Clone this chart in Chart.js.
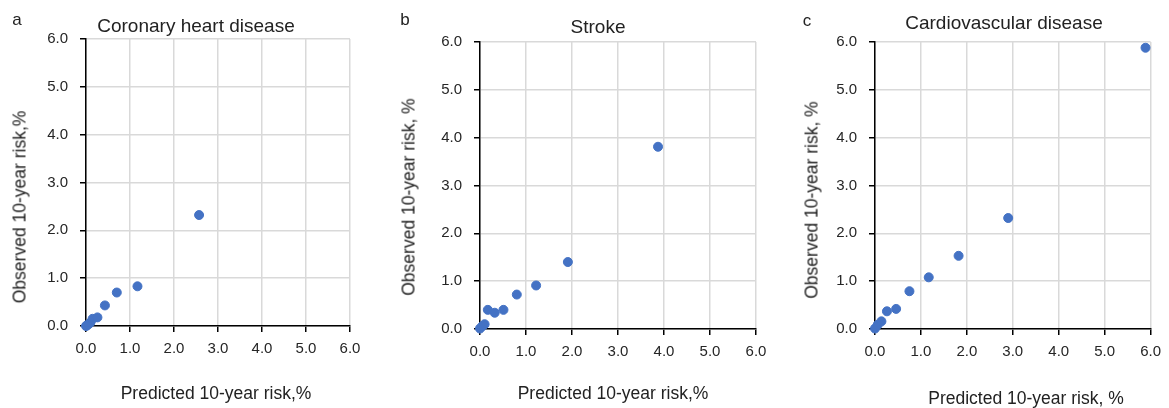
<!DOCTYPE html>
<html>
<head>
<meta charset="utf-8">
<script src="https://cdn.jsdelivr.net/npm/chart.js@4/dist/chart.umd.min.js"></script>
<style>
  body { margin: 0; background: #fff; }
  #wrap { position: relative; width: 1169px; height: 408px; font-family: "Liberation Sans", Arial, sans-serif; color: #222; }
  canvas { position: absolute; top: 0; }
  .lbl { position: absolute; white-space: nowrap; transform: translate(-50%, -50%); }
</style>
</head>
<body>
<div id="wrap">
  <canvas id="chartA" width="390" height="408" style="left:0px"></canvas>
  <canvas id="chartB" width="390" height="408" style="left:390px"></canvas>
  <canvas id="chartC" width="389" height="408" style="left:780px"></canvas>

  <div class="lbl" style="left:17px;top:20px;font-size:17px">a</div>
  <div class="lbl" style="left:196px;top:26px;font-size:19px">Coronary heart disease</div>
  <div class="lbl" style="left:20px;top:207px;font-size:17.5px;transform:translate(-50%,-50%) rotate(-90deg)">Observed 10-year risk,%</div>
  <div class="lbl" style="left:216px;top:393px;font-size:17.5px">Predicted 10-year risk,%</div>

  <div class="lbl" style="left:405px;top:20px;font-size:17px">b</div>
  <div class="lbl" style="left:598px;top:27px;font-size:19px">Stroke</div>
  <div class="lbl" style="left:409px;top:197px;font-size:17.5px;transform:translate(-50%,-50%) rotate(-90deg)">Observed 10-year risk, %</div>
  <div class="lbl" style="left:613px;top:393px;font-size:17.5px">Predicted 10-year risk,%</div>

  <div class="lbl" style="left:807px;top:21px;font-size:17px">c</div>
  <div class="lbl" style="left:1004px;top:23px;font-size:19px">Cardiovascular disease</div>
  <div class="lbl" style="left:812px;top:200px;font-size:17.5px;transform:translate(-50%,-50%) rotate(-90deg)">Observed 10-year risk, %</div>
  <div class="lbl" style="left:1026px;top:398px;font-size:17.5px">Predicted 10-year risk, %</div>
</div>

<script>
// values (predicted vs observed, %)
const chdPred = [0.00, 0.02, 0.06, 0.10, 0.15, 0.26, 0.43, 0.70, 1.17, 2.57];
const chdObs  = [0.00, 0.01, 0.04, 0.07, 0.15, 0.18, 0.43, 0.70, 0.83, 2.32];

const strokePred = [0.00, 0.05, 0.10, 0.17, 0.32, 0.51, 0.80, 1.22, 1.91, 3.87];
const strokeObs  = [0.01, 0.06, 0.10, 0.40, 0.34, 0.40, 0.72, 0.91, 1.40, 3.81];

const cvdPred = [0.00, 0.06, 0.14, 0.26, 0.46, 0.75, 1.17, 1.82, 2.90, 5.89];
const cvdObs  = [0.01, 0.09, 0.16, 0.37, 0.42, 0.79, 1.08, 1.53, 2.32, 5.88];

const axisMin = 0;
const axisMax = 6;
const axisStep = 1;

const FONT = '"Liberation Sans", Arial, sans-serif';

function makeScatter(id, xs, ys, pad) {
  const points = xs.map((x, i) => ({ x: x, y: ys[i] }));
  const ctx = document.getElementById(id).getContext('2d');
  return new Chart(ctx, {
    type: 'scatter',
    data: {
      datasets: [{
        data: points,
        backgroundColor: '#4472C4',
        borderColor: '#4472C4',
        pointRadius: 4.5,
        pointHoverRadius: 4.5,
        clip: false
      }]
    },
    options: {
      responsive: false,
      animation: false,
      devicePixelRatio: 1,
      layout: { padding: pad },
      plugins: { legend: { display: false }, tooltip: { enabled: false } },
      scales: {
        x: {
          type: 'linear',
          min: axisMin, max: axisMax,
          ticks: {
            stepSize: axisStep, padding: 8, color: '#262626',
            font: { family: FONT, size: 15 },
            callback: v => v.toFixed(1)
          },
          grid: { color: '#d9d9d9', lineWidth: 1.5, tickLength: 6, tickColor: '#000', tickWidth: 1.5 },
          border: { color: '#000', width: 1.5 },
          afterFit: s => { s.height = 40; }
        },
        y: {
          type: 'linear',
          min: axisMin, max: axisMax,
          ticks: {
            stepSize: axisStep, padding: 12, color: '#262626',
            font: { family: FONT, size: 15 },
            callback: v => v.toFixed(1)
          },
          grid: { color: '#d9d9d9', lineWidth: 1.5, tickLength: 6, tickColor: '#000', tickWidth: 1.5 },
          border: { color: '#000', width: 1.5 },
          afterFit: s => { s.width = 60; }
        }
      }
    }
  });
}

makeScatter('chartA', chdPred, chdObs, { left: 26, right: 40, top: 39, bottom: 42 });
makeScatter('chartB', strokePred, strokeObs, { left: 30, right: 24, top: 42, bottom: 39 });
makeScatter('chartC', cvdPred, cvdObs, { left: 35, right: 13, top: 42, bottom: 39 });
</script>
</body>
</html>
